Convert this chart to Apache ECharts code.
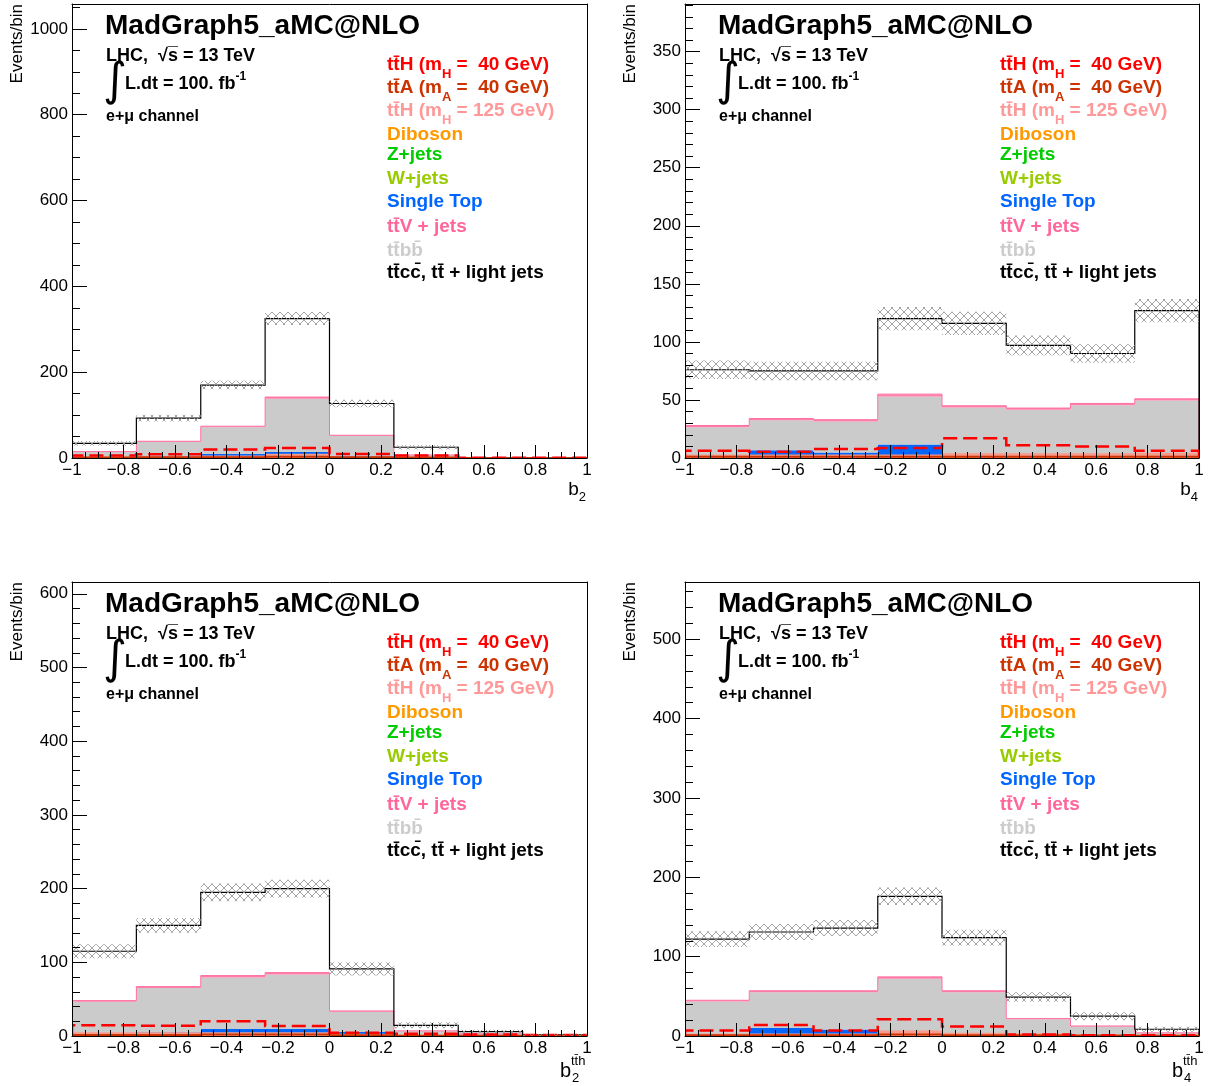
<!DOCTYPE html>
<html>
<head>
<meta charset="utf-8">
<script src="https://cdn.jsdelivr.net/npm/echarts@6/dist/echarts.min.js"></script>
<style>
html, body { margin: 0; padding: 0; background: #ffffff; }
#chart { width: 1211px; height: 1086px; }
</style>
</head>
<body>
<div id="chart"></div>
<script>
// Bin edges shared by all four distributions (8 bins on [-1, 1])
const binEdges = [-1, -0.75, -0.5, -0.25, 0, 0.25, 0.5, 0.75, 1];

// ---- b2 ----
const b2_diboson   = [0.3, 0.5, 0.8, 1.0, 0.5, 0.2, 0, 0];
const b2_zjets     = [0.2, 0.3, 0.4, 0.5, 0.3, 0.1, 0, 0];
const b2_wjets     = [0.2, 0.3, 0.4, 0.5, 0.3, 0.1, 0, 0];
const b2_singleTop = [2, 3, 8, 12, 4, 1, 0.1, 0];
const b2_ttbb      = [11.3, 33.4, 61.9, 124, 45.9, 5.1, 0.4, 0];
const b2_ttV       = [1, 1.5, 2.5, 4, 2, 0.5, 0, 0];
const b2_ttlight   = [19, 54, 96, 183, 74, 18, 0.3, 0.2];
const b2_err       = [5.5, 8, 10, 15, 9, 5, 0.5, 0.3];
const b2_ttH40     = [6, 8.6, 20, 23.4, 9.4, 6, 0.6, 0.6];
const b2_ttA40     = [1, 1.5, 2, 3, 1.5, 1, 0.2, 0.2];
const b2_ttH125    = [3, 4, 6, 10, 4, 2, 0.2, 0.1];

// ---- b4 ----
const b4_diboson   = [0.3, 0.3, 0.3, 0.3, 0.3, 0.3, 0.3, 0.3];
const b4_zjets     = [0.2, 0.2, 0.2, 0.2, 0.2, 0.2, 0.2, 0.2];
const b4_wjets     = [0.2, 0.2, 0.2, 0.2, 0.2, 0.2, 0.2, 0.2];
const b4_singleTop = [1, 6, 4, 11, 1, 1, 1, 1];
const b4_ttbb      = [24.8, 25.8, 26.8, 41.3, 41.8, 39.8, 43.8, 47.8];
const b4_ttV       = [1.5, 1.5, 1.5, 2, 1.5, 1.5, 1.5, 1.5];
const b4_ttlight   = [48, 41, 42, 65, 71, 54, 43, 76];
const b4_err       = [8, 8, 8, 10, 10, 8.5, 8, 10];
const b4_ttH40     = [6.3, 5.4, 7.7, 8.6, 17, 11, 10, 6.3];
const b4_ttA40     = [1, 1, 1, 1, 1, 1, 1, 1];
const b4_ttH125    = [3, 3, 3, 3, 4, 4, 4, 4.5];

// ---- b2 (tth frame) ----
const b2tth_diboson   = [0.5, 0.6, 0.8, 0.8, 0.4, 0.1, 0, 0];
const b2tth_zjets     = [0.3, 0.3, 0.4, 0.4, 0.2, 0.1, 0, 0];
const b2tth_wjets     = [0.3, 0.3, 0.4, 0.4, 0.2, 0.1, 0, 0];
const b2tth_singleTop = [3, 4, 8, 8, 4.5, 1, 0.2, 0];
const b2tth_ttbb      = [42.4, 59.8, 69.9, 73.9, 27.7, 5.4, 2.6, 0.9];
const b2tth_ttV       = [1.5, 2, 2.5, 2.5, 1, 0.3, 0.2, 0.1];
const b2tth_ttlight   = [67, 83, 113, 114, 57, 7.5, 3, 0.5];
const b2tth_err       = [9.5, 10, 12, 12, 9, 4, 2.5, 1];
const b2tth_ttH40     = [14.5, 14, 20, 13.6, 4.5, 3, 2, 1.5];
const b2tth_ttA40     = [1.5, 1.5, 2, 2, 1, 0.5, 0.3, 0.2];
const b2tth_ttH125    = [5, 5, 5, 5, 3, 1, 0.5, 0.3];

// ---- b4 (tth frame) ----
const b4tth_diboson   = [0.4, 0.5, 0.5, 0.6, 0.5, 0.2, 0.1, 0];
const b4tth_zjets     = [0.2, 0.3, 0.3, 0.3, 0.3, 0.1, 0.1, 0];
const b4tth_wjets     = [0.2, 0.3, 0.3, 0.3, 0.3, 0.1, 0.1, 0];
const b4tth_singleTop = [2, 9, 7, 3, 2, 0.5, 0.3, 0.2];
const b4tth_ttbb      = [40.7, 44.9, 46.9, 67.8, 51.9, 20.1, 11.5, 3.6];
const b4tth_ttV       = [1.5, 2, 2, 2.5, 2, 1, 0.5, 0.2];
const b4tth_ttlight   = [77, 74, 79, 101.5, 67, 27, 12.4, 4.5];
const b4tth_err       = [10, 10, 10, 11, 10, 6, 5, 3];
const b4tth_ttH40     = [7, 14, 7, 21, 12, 2, 1, 1];
const b4tth_ttA40     = [1, 1, 1, 2, 1, 1, 0.5, 0.3];
const b4tth_ttH125    = [3, 3, 3, 7, 4, 3, 1, 0.5];

// Axis tick labels
const xTickValues = [-1, -0.8, -0.6, -0.4, -0.2, 0, 0.2, 0.4, 0.6, 0.8, 1];
const b2_yTicks    = [0, 200, 400, 600, 800, 1000];
const b4_yTicks    = [0, 50, 100, 150, 200, 250, 300, 350];
const b2tth_yTicks = [0, 100, 200, 300, 400, 500, 600];
const b4tth_yTicks = [0, 100, 200, 300, 400, 500];

// Legend
const legendLabels = [
  'tt\u0304H (m{sub|H} =  40 GeV)',
  'tt\u0304A (m{sub|A} =  40 GeV)',
  'tt\u0304H (m{sub|H} = 125 GeV)',
  'Diboson',
  'Z+jets',
  'W+jets',
  'Single Top',
  'tt\u0304V + jets',
  'tt\u0304bb\u0304',
  'tt\u0304cc\u0304, tt\u0304 + light jets'
];
const legendColors = ['#ff0000', '#cc3300', '#ff9999', '#ff9900', '#00cc00', '#99cc00',
                      '#0066ff', '#ff6699', '#cccccc', '#000000'];
const legendRowY = [65, 88, 111, 135, 155, 179, 202, 227, 251, 273];

const FONT = '"Liberation Sans", Arial, Helvetica, sans-serif';

// Stack layers, bottom to top
const layerStyle = [
  { key: 'diboson',   fill: '#ff9900' },
  { key: 'zjets',     fill: '#00cc00' },
  { key: 'wjets',     fill: '#99cc00' },
  { key: 'singleTop', fill: '#0066ff' },
  { key: 'ttbb',      fill: '#cbcbcb' },
  { key: 'ttV',       fill: '#ff7fa8' },
  { key: 'ttlight',   fill: '#ffffff' }
];

const panels = [
  { grid: { left: 72,  top: 4,   width: 515, height: 454 }, yMax: 1058, yTicks: b2_yTicks, yMinor: 50,
    layers: { diboson: b2_diboson, zjets: b2_zjets, wjets: b2_wjets, singleTop: b2_singleTop, ttbb: b2_ttbb, ttV: b2_ttV, ttlight: b2_ttlight },
    err: b2_err, ttH40: b2_ttH40, ttA40: b2_ttA40, ttH125: b2_ttH125, sub: '2', sup: null },
  { grid: { left: 685, top: 4,   width: 514, height: 454 }, yMax: 391, yTicks: b4_yTicks, yMinor: 10,
    layers: { diboson: b4_diboson, zjets: b4_zjets, wjets: b4_wjets, singleTop: b4_singleTop, ttbb: b4_ttbb, ttV: b4_ttV, ttlight: b4_ttlight },
    err: b4_err, ttH40: b4_ttH40, ttA40: b4_ttA40, ttH125: b4_ttH125, sub: '4', sup: null },
  { grid: { left: 72,  top: 582, width: 515, height: 454 }, yMax: 616, yTicks: b2tth_yTicks, yMinor: 20,
    layers: { diboson: b2tth_diboson, zjets: b2tth_zjets, wjets: b2tth_wjets, singleTop: b2tth_singleTop, ttbb: b2tth_ttbb, ttV: b2tth_ttV, ttlight: b2tth_ttlight },
    err: b2tth_err, ttH40: b2tth_ttH40, ttA40: b2tth_ttA40, ttH125: b2tth_ttH125, sub: '2', sup: 'tt\u0304h' },
  { grid: { left: 685, top: 582, width: 514, height: 454 }, yMax: 572, yTicks: b4tth_yTicks, yMinor: 20,
    layers: { diboson: b4tth_diboson, zjets: b4tth_zjets, wjets: b4tth_wjets, singleTop: b4tth_singleTop, ttbb: b4tth_ttbb, ttV: b4tth_ttV, ttlight: b4tth_ttlight },
    err: b4tth_err, ttH40: b4tth_ttH40, ttA40: b4tth_ttA40, ttH125: b4tth_ttH125, sub: '4', sup: 'tt\u0304h' }
];

// Cross-hatch pattern for the uncertainty band
const hatch = document.createElement('canvas');
hatch.width = 8; hatch.height = 8;
(function () {
  const c = hatch.getContext('2d');
  c.strokeStyle = '#9a9a9a';
  c.lineWidth = 0.9;
  c.beginPath();
  c.moveTo(0, 0); c.lineTo(8, 8);
  c.moveTo(8, 0); c.lineTo(0, 8);
  c.stroke();
})();

function binCenters(values) {
  return values.map((v, i) => [(binEdges[i] + binEdges[i + 1]) / 2, v]);
}

// Step-shaped filled area between lower[] and upper[]
function areaSeries(gi, lower, upper, fill, z) {
  return {
    type: 'custom', xAxisIndex: gi * 2, yAxisIndex: gi * 3, z: z, silent: true, clip: true,
    data: [[0, 0]],
    renderItem: function (params, api) {
      const pts = [];
      upper.forEach(function (v, i) {
        pts.push(api.coord([binEdges[i], v]));
        pts.push(api.coord([binEdges[i + 1], v]));
      });
      for (let i = lower.length - 1; i >= 0; i--) {
        pts.push(api.coord([binEdges[i + 1], lower[i]]));
        pts.push(api.coord([binEdges[i], lower[i]]));
      }
      return { type: 'polygon', shape: { points: pts }, style: { fill: fill, stroke: null } };
    }
  };
}

// Filled rectangles per bin (uncertainty band)
function bandSeries(gi, lower, upper, fill, z) {
  return {
    type: 'custom', xAxisIndex: gi * 2, yAxisIndex: gi * 3, z: z, silent: true, clip: true,
    data: binCenters(upper),
    renderItem: function (params, api) {
      const i = params.dataIndex;
      const p0 = api.coord([binEdges[i], lower[i]]);
      const p1 = api.coord([binEdges[i + 1], upper[i]]);
      return {
        type: 'rect',
        shape: { x: p0[0], y: Math.min(p0[1], p1[1]), width: p1[0] - p0[0], height: Math.abs(p0[1] - p1[1]) },
        style: { fill: fill }
      };
    }
  };
}

// Histogram outline drawn as a step line
function stepSeries(gi, values, color, width, dash, z) {
  return {
    type: 'custom', xAxisIndex: gi * 2, yAxisIndex: gi * 3, z: z, silent: true, clip: true,
    data: [[0, 0]],
    renderItem: function (params, api) {
      const pts = [api.coord([binEdges[0], 0])];
      values.forEach(function (v, i) {
        pts.push(api.coord([binEdges[i], v]));
        pts.push(api.coord([binEdges[i + 1], v]));
      });
      pts.push(api.coord([binEdges[binEdges.length - 1], 0]));
      return {
        type: 'polyline', shape: { points: pts },
        style: { stroke: color, lineWidth: width, lineDash: dash || null, fill: null }
      };
    }
  };
}

const grids = [], xAxes = [], yAxes = [], series = [], graphics = [];

panels.forEach(function (p, gi) {
  grids.push(Object.assign({ show: false, containLabel: false }, p.grid));

  // bottom axis with ticks and labels
  xAxes.push({
    gridIndex: gi, type: 'value', min: -1, max: 1, interval: 0.2, position: 'bottom', z: 10,
    axisLine: { show: true, onZero: false, lineStyle: { color: '#000', width: 1 } },
    axisTick: { show: true, inside: true, length: 13, lineStyle: { color: '#000', width: 1 } },
    minorTick: { show: true, splitNumber: 4, length: 6, lineStyle: { color: '#000', width: 1 } },
    splitLine: { show: false },
    axisLabel: {
      show: true, interval: 0, margin: 4, color: '#000', fontSize: 17, fontFamily: FONT,
      customValues: xTickValues,
      formatter: function (v) { return String(+(+v).toFixed(2)).replace('-', '\u2212'); }
    }
  });
  // top frame line
  xAxes.push({
    gridIndex: gi, type: 'value', min: -1, max: 1, position: 'top', z: 10,
    axisLine: { show: true, onZero: false, lineStyle: { color: '#000', width: 1 } },
    axisTick: { show: false }, axisLabel: { show: false }, splitLine: { show: false }
  });

  const minorVals = [];
  for (let v = p.yMinor; v < p.yMax; v += p.yMinor) {
    if (p.yTicks.indexOf(v) < 0) minorVals.push(v);
  }
  // left axis: major ticks and labels
  yAxes.push({
    gridIndex: gi, type: 'value', min: 0, max: p.yMax, position: 'left', z: 10,
    axisLine: { show: true, onZero: false, lineStyle: { color: '#000', width: 1 } },
    axisTick: { show: true, inside: true, length: 15, customValues: p.yTicks, lineStyle: { color: '#000', width: 1 } },
    axisLabel: {
      show: true, margin: 4, color: '#000', fontSize: 17, fontFamily: FONT, customValues: p.yTicks,
      formatter: function (v) { return String(Math.round(v)); }
    },
    splitLine: { show: false }
  });
  // left axis: minor ticks
  yAxes.push({
    gridIndex: gi, type: 'value', min: 0, max: p.yMax, position: 'left', z: 10,
    axisLine: { show: false, onZero: false },
    axisTick: { show: true, inside: true, length: 8, customValues: minorVals, lineStyle: { color: '#000', width: 1 } },
    axisLabel: { show: false, customValues: minorVals }, splitLine: { show: false }
  });
  // right frame line
  yAxes.push({
    gridIndex: gi, type: 'value', min: 0, max: p.yMax, position: 'right', z: 10,
    axisLine: { show: true, onZero: false, lineStyle: { color: '#000', width: 1 } },
    axisTick: { show: false }, axisLabel: { show: false }, splitLine: { show: false }
  });

  // stacked backgrounds
  let cum = binEdges.slice(1).map(function () { return 0; });
  const tops = {};
  layerStyle.forEach(function (ls) {
    const vals = p.layers[ls.key];
    const lower = cum.slice();
    const upper = cum.map(function (c, i) { return c + vals[i]; });
    series.push(areaSeries(gi, lower, upper, ls.fill, 2));
    tops[ls.key] = upper;
    cum = upper;
  });
  series.push(stepSeries(gi, tops.ttV, '#ff6f9f', 1, null, 3));
  series.push(stepSeries(gi, tops.ttlight, '#000000', 1.2, null, 3));

  // signals
  series.push(areaSeries(gi, p.ttH125.map(function () { return 0; }), p.ttH125, '#fa9a8a', 4));
  series.push(stepSeries(gi, p.ttA40, '#cc3300', 2, null, 5));
  series.push(stepSeries(gi, p.ttH40, '#ff0000', 2.5, [14, 6], 6));

  // total uncertainty band
  const total = cum;
  series.push(bandSeries(gi,
    total.map(function (t, i) { return Math.max(0, t - p.err[i]); }),
    total.map(function (t, i) { return t + p.err[i]; }),
    { image: hatch, repeat: 'repeat' }, 7));

  // ---- texts ----
  const ox = p.grid.left - 72;
  const oy = p.grid.top - 4;

  graphics.push({
    type: 'text', x: 17 + ox, y: 4 + oy, rotation: Math.PI / 2, z: 100,
    style: { text: 'Events/bin', fill: '#000', font: '17px ' + FONT, align: 'right', verticalAlign: 'middle' }
  });
  graphics.push({
    type: 'text', x: 105 + ox, y: 26 + oy, z: 100,
    style: { text: 'MadGraph5_aMC@NLO', fill: '#000', font: 'bold 28px ' + FONT, align: 'left', verticalAlign: 'middle' }
  });
  graphics.push({
    type: 'text', x: 106 + ox, y: 56 + oy, z: 100,
    style: { text: 'LHC,  \u221As\u0305 = 13 TeV', fill: '#000', font: 'bold 18px ' + FONT, align: 'left', verticalAlign: 'middle' }
  });
  graphics.push({
    type: 'text', x: 103 + ox, y: 83 + oy, z: 100,
    style: { text: '\u222B', fill: '#000', font: '46px "DejaVu Sans", ' + FONT, align: 'left', verticalAlign: 'middle' }
  });
  graphics.push({
    type: 'text', x: 125 + ox, y: 84 + oy, z: 100,
    style: {
      text: 'L.dt = 100. fb{sup|-1}', fill: '#000', font: 'bold 18px ' + FONT, align: 'left', verticalAlign: 'middle',
      rich: { sup: { fontSize: 12, fontWeight: 'bold', fontFamily: FONT, padding: [0, 0, 14, 0] } }
    }
  });
  graphics.push({
    type: 'text', x: 106 + ox, y: 117 + oy, z: 100,
    style: { text: 'e+\u03BC channel', fill: '#000', font: 'bold 16px ' + FONT, align: 'left', verticalAlign: 'middle' }
  });
  legendLabels.forEach(function (lab, li) {
    graphics.push({
      type: 'text', x: 387 + ox, y: legendRowY[li] + oy, z: 100,
      style: {
        text: lab, fill: legendColors[li], font: 'bold 19px ' + FONT, align: 'left', verticalAlign: 'middle',
        rich: { sub: { fontSize: 13, fontWeight: 'bold', fontFamily: FONT, padding: [18, 0, 0, 0] } }
      }
    });
  });

  // x-axis title
  const xr = p.grid.left + p.grid.width;
  const yb = p.grid.top + p.grid.height;
  if (!p.sup) {
    graphics.push({
      type: 'text', x: xr - 1, y: yb + 32, z: 100,
      style: {
        text: 'b{sub|' + p.sub + '}', fill: '#000', font: '19px ' + FONT, align: 'right', verticalAlign: 'middle',
        rich: { sub: { fontSize: 13, fontFamily: FONT, padding: [14, 0, 0, 0] } }
      }
    });
  } else {
    graphics.push({
      type: 'text', x: xr - 16, y: yb + 35, z: 100,
      style: { text: 'b', fill: '#000', font: '20px ' + FONT, align: 'right', verticalAlign: 'middle' }
    });
    graphics.push({
      type: 'text', x: xr - 15, y: yb + 42, z: 100,
      style: { text: p.sub, fill: '#000', font: '13px ' + FONT, align: 'left', verticalAlign: 'middle' }
    });
    graphics.push({
      type: 'text', x: xr - 16, y: yb + 25, z: 100,
      style: { text: p.sup, fill: '#000', font: '13px ' + FONT, align: 'left', verticalAlign: 'middle' }
    });
  }
});

const chart = echarts.init(document.getElementById('chart'), null, { renderer: 'canvas' });
chart.setOption({
  backgroundColor: '#ffffff',
  animation: false,
  grid: grids,
  xAxis: xAxes,
  yAxis: yAxes,
  series: series,
  graphic: { elements: graphics }
});
</script>
</body>
</html>
